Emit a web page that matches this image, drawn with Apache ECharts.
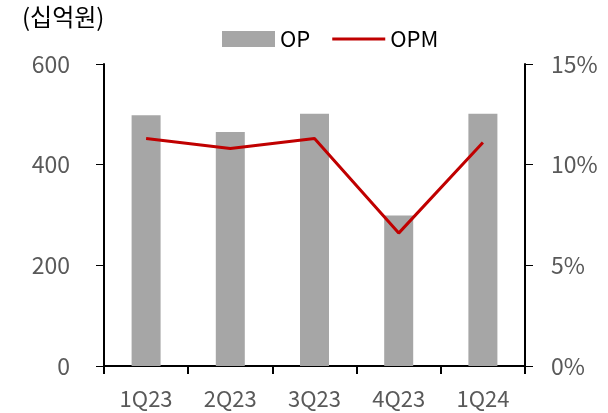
<!DOCTYPE html>
<html>
<head>
<meta charset="utf-8">
<script src="https://cdn.jsdelivr.net/npm/echarts@6/dist/echarts.min.js"></script>
<style>
  html, body { margin: 0; padding: 0; background: #fff; }
  #chart { width: 608px; height: 413px; }
</style>
</head>
<body>
<div id="chart"></div>
<script>
// Quarterly operating profit (십억원) and operating margin (%)
const quarters = ['1Q23', '2Q23', '3Q23', '4Q23', '1Q24'];
const opValues = [498, 465, 501, 299, 501];
const opmValues = [11.3, 10.8, 11.3, 6.6, 11.1];
const leftTicks = [0, 200, 400, 600];
const rightTicks = [0, 5, 10, 15];

const font = '"Noto Sans CJK KR", "Open Sans", sans-serif';
const labelColor = '#595959';

// Thin horizontal stroke for the margin legend; the corner specks fix the icon box at 53x16
const lineIcon = 'path://M0,0 L0.01,0 L0,0.01 Z M0,6.5 L53,6.5 L53,9.5 L0,9.5 Z M53,16 L52.99,16 L53,15.99 Z';

const chart = echarts.init(document.getElementById('chart'), null, { renderer: 'canvas' });

chart.setOption({
  animation: false,
  textStyle: { fontFamily: font },
  grid: { left: 104, right: 83, top: 64, bottom: 47, containLabel: false },
  graphic: [{
    type: 'text',
    left: 22,
    top: 5,
    style: { text: '(십억원)', fontSize: 24, fill: '#000', fontFamily: font }
  }],
  legend: {
    top: 23,
    left: 217,
    itemGap: 22,
    itemWidth: 53,
    itemHeight: 16,
    textStyle: { fontSize: 22, color: '#000', fontFamily: font },
    data: [
      { name: 'OP', icon: 'rect' },
      { name: 'OPM', icon: lineIcon, itemStyle: { color: '#c00000' } }
    ]
  },
  xAxis: {
    type: 'category',
    data: quarters,
    boundaryGap: true,
    axisLine: { lineStyle: { color: '#000', width: 2 } },
    axisTick: { show: true, length: 8, lineStyle: { color: '#000', width: 2 } },
    axisLabel: { fontSize: 22, color: labelColor, margin: 22 }
  },
  yAxis: [
    {
      type: 'value',
      min: leftTicks[0],
      max: leftTicks[leftTicks.length - 1],
      interval: 200,
      axisLine: { show: true, lineStyle: { color: '#000', width: 2 } },
      axisTick: { show: true, length: 8, lineStyle: { color: '#000', width: 1 } },
      splitLine: { show: false },
      axisLabel: { fontSize: 23, color: labelColor, margin: 34 }
    },
    {
      type: 'value',
      min: rightTicks[0],
      max: rightTicks[rightTicks.length - 1],
      interval: 5,
      position: 'right',
      axisLine: { show: true, lineStyle: { color: '#000', width: 2 } },
      axisTick: { show: true, length: 8, lineStyle: { color: '#000', width: 1 } },
      splitLine: { show: false },
      axisLabel: { fontSize: 23, color: labelColor, margin: 26, formatter: '{value}%' }
    }
  ],
  series: [
    {
      name: 'OP',
      type: 'bar',
      data: opValues,
      barWidth: 29,
      itemStyle: { color: '#a6a6a6' },
      z: 2
    },
    {
      name: 'OPM',
      type: 'line',
      yAxisIndex: 1,
      data: opmValues,
      symbol: 'none',
      lineStyle: { color: '#c00000', width: 3 },
      itemStyle: { color: '#c00000' },
      z: 3
    }
  ]
});
</script>
</body>
</html>
